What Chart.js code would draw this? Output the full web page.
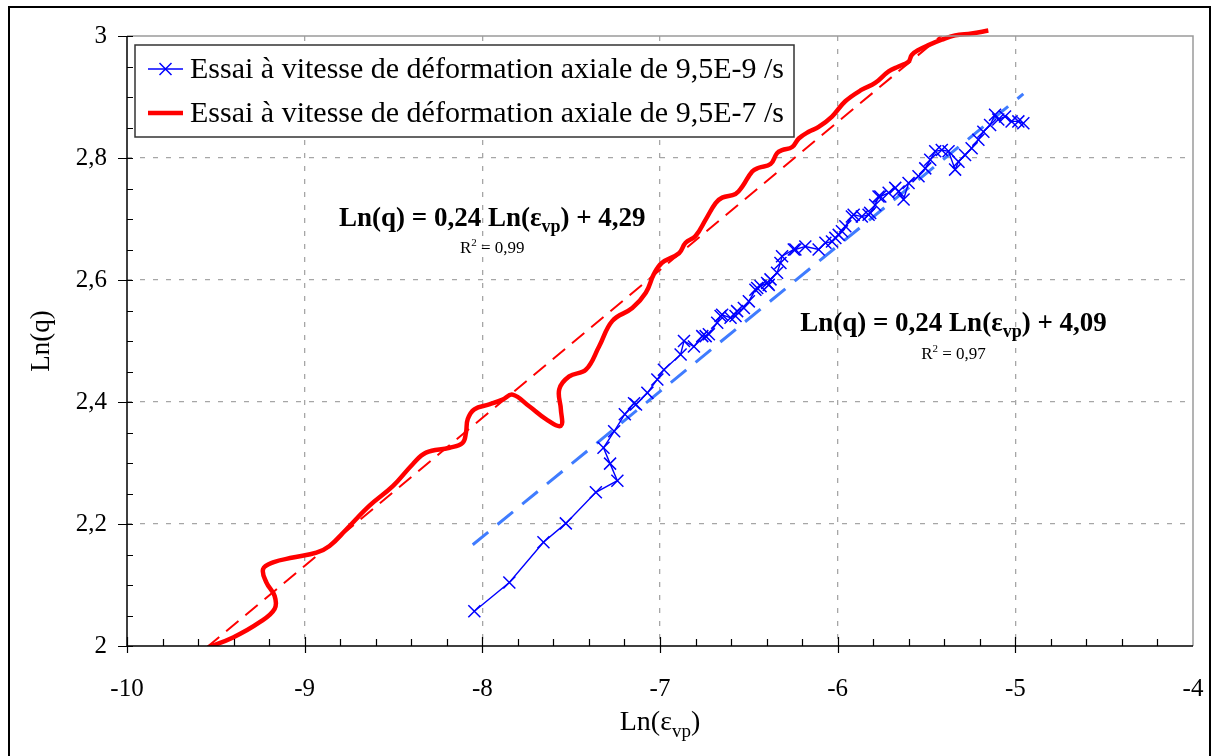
<!DOCTYPE html>
<html>
<head>
<meta charset="utf-8">
<script src="https://cdn.jsdelivr.net/npm/chart.js@4.4.1/dist/chart.umd.min.js"></script>
<style>
  body { margin: 0; background: #fff; }
  #wrap { width: 1218px; height: 756px; }
</style>
</head>
<body>
<div id="wrap"><canvas id="mainChart" width="1218" height="756"></canvas></div>
<script>
// Essai 9,5E-9 /s (blue, markers)
const blueX = [-8.045, -7.848, -7.656, -7.530, -7.361, -7.240, -7.281, -7.318, -7.258, -7.198,
  -7.146, -7.135, -7.071, -7.015, -6.978, -6.884, -6.865, -6.809, -6.762, -6.743,
  -6.725, -6.678, -6.659, -6.650, -6.603, -6.575, -6.566, -6.528, -6.500, -6.463,
  -6.453, -6.434, -6.397, -6.388, -6.378, -6.341, -6.322, -6.313, -6.247, -6.238,
  -6.182, -6.107, -6.069, -6.032, -6.013, -5.994, -5.976, -5.957, -5.920, -5.910,
  -5.864, -5.826, -5.817, -5.789, -5.770, -5.760, -5.713, -5.676, -5.657, -5.629,
  -5.601, -5.545, -5.507, -5.479, -5.451, -5.414, -5.376, -5.339, -5.320, -5.283,
  -5.246, -5.208, -5.180, -5.142, -5.114, -5.096, -5.058, -5.021, -4.983, -4.955];
const blueY = [2.057, 2.104, 2.170, 2.201, 2.252, 2.271, 2.299, 2.325, 2.352, 2.380,
  2.398, 2.396, 2.415, 2.437, 2.453, 2.478, 2.500, 2.491, 2.508, 2.508,
  2.511, 2.530, 2.541, 2.543, 2.538, 2.541, 2.549, 2.554, 2.565, 2.584,
  2.587, 2.590, 2.595, 2.592, 2.601, 2.612, 2.628, 2.639, 2.650, 2.650,
  2.655, 2.650, 2.661, 2.663, 2.669, 2.674, 2.680, 2.688, 2.704, 2.707,
  2.704, 2.707, 2.710, 2.723, 2.737, 2.737, 2.743, 2.751, 2.745, 2.732,
  2.759, 2.770, 2.783, 2.797, 2.811, 2.813, 2.811, 2.781, 2.794, 2.805,
  2.816, 2.830, 2.843, 2.854, 2.871, 2.863, 2.868, 2.860, 2.860, 2.857];

// Essai 9,5E-7 /s (red, smoothed)
const redX = [-9.543, -9.403, -9.253, -9.169, -9.169, -9.215, -9.234, -9.178, -9.066, -8.934,
  -8.860, -8.766, -8.635, -8.504, -8.392, -8.317, -8.185, -8.111, -8.092, -8.082,
  -8.045, -7.961, -7.886, -7.830, -7.736, -7.642, -7.558, -7.558, -7.567, -7.511,
  -7.417, -7.343, -7.268, -7.156, -7.080, -7.034, -6.990, -6.893, -6.856, -6.800,
  -6.743, -6.687, -6.650, -6.575, -6.537, -6.481, -6.444, -6.378, -6.341, -6.313,
  -6.256, -6.219, -6.163, -6.107, -6.032, -5.957, -5.864, -5.789, -5.713, -5.657,
  -5.601, -5.583, -5.545, -5.489, -5.414, -5.339, -5.246, -5.152];
const redY = [1.998, 2.014, 2.039, 2.061, 2.082, 2.104, 2.126, 2.137, 2.145, 2.153,
  2.164, 2.191, 2.230, 2.262, 2.298, 2.317, 2.325, 2.333, 2.350, 2.372,
  2.388, 2.396, 2.404, 2.412, 2.393, 2.372, 2.361, 2.388, 2.421, 2.442,
  2.453, 2.491, 2.533, 2.554, 2.579, 2.610, 2.628, 2.644, 2.661, 2.672,
  2.699, 2.726, 2.735, 2.741, 2.753, 2.778, 2.784, 2.790, 2.808, 2.813,
  2.818, 2.832, 2.843, 2.851, 2.868, 2.893, 2.912, 2.923, 2.942, 2.950,
  2.958, 2.969, 2.977, 2.985, 2.994, 3.001, 3.004, 3.009];

// trend lines (end points)
const redFitX = [-9.55, -5.15];
const redFitY = [1.998, 3.065];
const blueFitX = [-8.054, -4.955];
const blueFitY = [2.166, 2.905];

const legendLabels = ['Essai à vitesse de déformation axiale de 9,5E-9 /s',
                      'Essai à vitesse de déformation axiale de 9,5E-7 /s'];
const xTicks = [-10, -9, -8, -7, -6, -5, -4];
const yTicks = [2, 2.2, 2.4, 2.6, 2.8, 3];

const SERIF = '"Liberation Serif", "Times New Roman", serif';

function toPoints(xs, ys) {
    return xs.map((x, i) => ({ x: x, y: ys[i] }));
}

function fmt(v) {
    return String(Math.round(v * 10) / 10).replace('.', ',');
}

// draw text made of parts (normal + subscript / superscript)
function drawParts(ctx, parts, x, y, align) {
    let total = 0;
    parts.forEach(p => { ctx.font = p.font; total += ctx.measureText(p.text).width; });
    let cx = align === 'center' ? x - total / 2 : x;
    ctx.textAlign = 'left';
    ctx.textBaseline = 'alphabetic';
    parts.forEach(p => {
        ctx.font = p.font;
        ctx.fillText(p.text, cx, y + (p.dy || 0));
        cx += ctx.measureText(p.text).width;
    });
}

const decorPlugin = {
    id: 'decor',
    beforeDraw(chart) {
        const ctx = chart.ctx;
        ctx.save();
        ctx.fillStyle = '#fff';
        ctx.fillRect(0, 0, chart.width, chart.height);
        ctx.restore();
    },
    afterDraw(chart) {
        const ctx = chart.ctx;
        const area = chart.chartArea;
        const xs = chart.scales.x, ys = chart.scales.y;
        ctx.save();

        // plot area border (top / right)
        ctx.strokeStyle = '#9a9a9a';
        ctx.lineWidth = 1.5;
        ctx.beginPath();
        ctx.moveTo(area.left, area.top);
        ctx.lineTo(area.right, area.top);
        ctx.lineTo(area.right, area.bottom);
        ctx.stroke();

        // axes
        ctx.strokeStyle = '#000';
        ctx.lineWidth = 1.5;
        ctx.beginPath();
        ctx.moveTo(area.left, area.top);
        ctx.lineTo(area.left, area.bottom);
        ctx.lineTo(area.right, area.bottom);
        ctx.stroke();

        // x ticks: major cross, minor inside
        ctx.lineWidth = 1.2;
        ctx.beginPath();
        for (let v = -10; v <= -4.001 + 0.0001; v += 0.2) {
            const px = Math.round(xs.getPixelForValue(v)) + 0.5;
            const major = Math.abs(v - Math.round(v)) < 1e-6;
            ctx.moveTo(px, area.bottom - (major ? 9 : 7));
            ctx.lineTo(px, area.bottom + (major ? 7 : 0));
        }
        // y ticks
        for (let v = 2; v <= 3.0001; v += 0.05) {
            const py = Math.round(ys.getPixelForValue(v)) + 0.5;
            const major = Math.abs(v * 5 - Math.round(v * 5)) < 1e-6;
            ctx.moveTo(area.left - (major ? 9 : 0), py);
            ctx.lineTo(area.left + 6, py);
        }
        ctx.stroke();

        // legend
        const lx = 135, ly = 45, lw = 659, lh = 92;
        ctx.fillStyle = '#fff';
        ctx.fillRect(lx, ly, lw, lh);
        ctx.strokeStyle = '#333';
        ctx.lineWidth = 1.5;
        ctx.strokeRect(lx, ly, lw, lh);
        const ds = chart.data.datasets;
        const rows = [ly + 24, ly + 68];
        [0, 1].forEach(i => {
            const d = ds[i];
            const yy = rows[i];
            ctx.strokeStyle = d.borderColor;
            ctx.lineWidth = d.borderWidth;
            ctx.beginPath();
            ctx.moveTo(148, yy);
            ctx.lineTo(183, yy);
            ctx.stroke();
            if (d.pointRadius > 0) {
                const r = 6;
                ctx.lineWidth = d.pointBorderWidth;
                ctx.beginPath();
                ctx.moveTo(165.5 - r, yy - r);
                ctx.lineTo(165.5 + r, yy + r);
                ctx.moveTo(165.5 - r, yy + r);
                ctx.lineTo(165.5 + r, yy - r);
                ctx.stroke();
            }
            ctx.fillStyle = '#000';
            ctx.font = '30px ' + SERIF;
            ctx.textAlign = 'left';
            ctx.textBaseline = 'middle';
            ctx.fillText(legendLabels[i], 190, yy + 1);
        });

        // trend line equations
        ctx.fillStyle = '#000';
        const bold = s => 'bold ' + s + 'px ' + SERIF;
        const reg = s => s + 'px ' + SERIF;
        const eqs = [
            { x: -7.944, y: 2.689, r2y: 2.644, b: '4,29', r2: '0,99' },
            { x: -5.348, y: 2.516, r2y: 2.471, b: '4,09', r2: '0,97' }
        ];
        eqs.forEach(e => {
            const px = xs.getPixelForValue(e.x);
            const py = ys.getPixelForValue(e.y);
            drawParts(ctx, [
                { text: 'Ln(q) = 0,24 Ln(\u03b5', font: bold(27) },
                { text: 'vp', font: bold(18), dy: 6 },
                { text: ') + ' + e.b, font: bold(27) }
            ], px, py, 'center');
            drawParts(ctx, [
                { text: 'R', font: reg(17) },
                { text: '2', font: reg(11), dy: -7 },
                { text: ' = ' + e.r2, font: reg(17) }
            ], px, ys.getPixelForValue(e.r2y), 'center');
        });

        // axis titles
        drawParts(ctx, [
            { text: 'Ln(\u03b5', font: reg(28) },
            { text: 'vp', font: reg(19), dy: 7 },
            { text: ')', font: reg(28) }
        ], (area.left + area.right) / 2, 730, 'center');
        ctx.save();
        ctx.translate(49, 341);
        ctx.rotate(-Math.PI / 2);
        ctx.font = reg(27);
        ctx.textAlign = 'center';
        ctx.textBaseline = 'alphabetic';
        ctx.fillText('Ln(q)', 0, 0);
        ctx.restore();

        // outer frame
        ctx.strokeStyle = '#000';
        ctx.lineWidth = 2;
        ctx.strokeRect(9, 7, 1201, 760);
        ctx.restore();
    }
};

function initializeChart() {
    const ctx = document.getElementById('mainChart').getContext('2d');
    window.mainChart = new Chart(ctx, {
        type: 'scatter',
        data: {
            datasets: [{
                label: legendLabels[0],
                data: toPoints(blueX, blueY),
                showLine: true,
                borderColor: '#0000ff',
                backgroundColor: '#0000ff',
                borderWidth: 1.4,
                pointStyle: 'crossRot',
                pointRadius: 8.5,
                pointBorderWidth: 1.5,
                tension: 0
            }, {
                label: legendLabels[1],
                data: toPoints(redX, redY),
                showLine: true,
                borderColor: '#ff0000',
                borderWidth: 4.5,
                pointRadius: 0,
                tension: 0.4,
                clip: { left: 0, top: 8, right: 0, bottom: 0 }
            }, {
                label: 'trend 9,5E-7',
                data: toPoints(redFitX, redFitY),
                showLine: true,
                borderColor: '#ff0000',
                borderWidth: 2,
                borderDash: [16, 9],
                pointRadius: 0
            }, {
                label: 'trend 9,5E-9',
                data: toPoints(blueFitX, blueFitY),
                showLine: true,
                borderColor: '#3f7cff',
                borderWidth: 3,
                borderDash: [20, 12],
                pointRadius: 0
            }]
        },
        options: {
            responsive: false,
            animation: false,
            layout: { padding: { top: 36, right: 25, left: 0, bottom: 0 } },
            plugins: {
                legend: { display: false },
                tooltip: { enabled: false }
            },
            scales: {
                x: {
                    type: 'linear',
                    min: -10,
                    max: -4,
                    afterFit(scale) { scale.height = 110; },
                    afterBuildTicks(scale) { scale.ticks = xTicks.map(v => ({ value: v })); },
                    ticks: {
                        color: '#000',
                        font: { family: SERIF, size: 25 },
                        padding: 3,
                        maxRotation: 0,
                        callback: v => String(v)
                    },
                    grid: {
                        color: c => (c.tick && (c.tick.value === -10 || c.tick.value === -4)) ? 'rgba(0,0,0,0)' : '#a6a6a6',
                        lineWidth: 1.3,
                        drawTicks: true,
                        tickLength: 25,
                        tickColor: 'rgba(0,0,0,0)'
                    },
                    border: { display: false, dash: [5, 8] }
                },
                y: {
                    type: 'linear',
                    min: 2,
                    max: 3,
                    afterFit(scale) { scale.width = 127; },
                    afterBuildTicks(scale) { scale.ticks = yTicks.map(v => ({ value: v })); },
                    ticks: {
                        color: '#000',
                        font: { family: SERIF, size: 25 },
                        padding: 20,
                        callback: v => fmt(v)
                    },
                    grid: {
                        color: c => (c.tick && (c.tick.value === 2 || c.tick.value === 3)) ? 'rgba(0,0,0,0)' : '#a6a6a6',
                        lineWidth: 1.3,
                        drawTicks: false
                    },
                    border: { display: false, dash: [5, 8] }
                }
            }
        },
        plugins: [decorPlugin]
    });
}

document.addEventListener('DOMContentLoaded', initializeChart);
</script>
</body>
</html>
